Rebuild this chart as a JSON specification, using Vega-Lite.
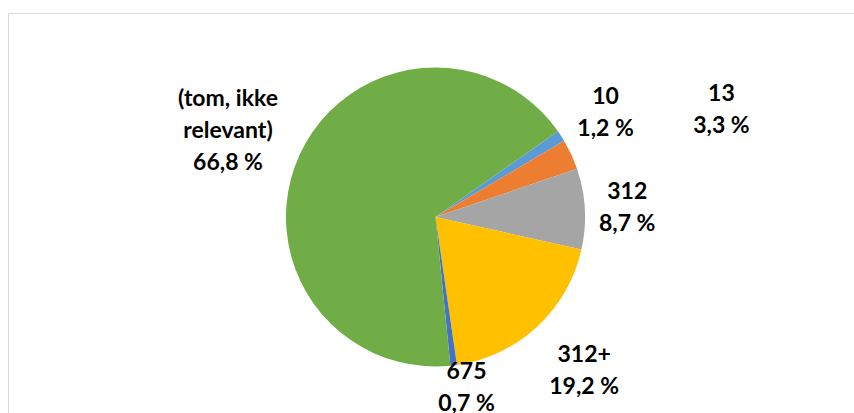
{
  "$schema": "https://vega.github.io/schema/vega-lite/v6.json",
  "width": 855,
  "height": 408,
  "autosize": {"type": "none"},
  "padding": {"left": 8, "top": 13, "right": 0, "bottom": 0},
  "background": "white",
  "view": {"stroke": "#D9D9D9", "strokeWidth": 1, "fill": "white"},
  "data": {
    "values": [
      {"i": 1, "cat": "10", "pct": 1.2, "label": "10\n1,2 %"},
      {"i": 2, "cat": "13", "pct": 3.3, "label": "13\n3,3 %"},
      {"i": 3, "cat": "312", "pct": 8.7, "label": "312\n8,7 %"},
      {"i": 4, "cat": "312+", "pct": 19.2, "label": "312+\n19,2 %"},
      {"i": 5, "cat": "675", "pct": 0.7, "label": "675\n0,7 %"},
      {"i": 6, "cat": "(tom, ikke relevant)", "pct": 66.8, "label": "(tom, ikke\nrelevant)\n66,8 %"}
    ]
  },
  "encoding": {
    "theta": {"field": "pct", "type": "quantitative", "stack": true, "scale": {"range": [0.96, 7.2432]}},
    "order": {"field": "i", "type": "quantitative"}
  },
  "layer": [
    {
      "mark": {"type": "arc", "radius": 149.5},
      "encoding": {
        "color": {
          "field": "cat", "type": "nominal", "legend": null,
          "scale": {
            "domain": ["10", "13", "312", "312+", "675", "(tom, ikke relevant)"],
            "range": ["#5B9BD5", "#ED7D31", "#A5A5A5", "#FFC000", "#4472C4", "#70AD47"]
          }
        }
      }
    },
    {
      "mark": {"type": "text", "radius": 200, "dx": 2, "dy": -12, "font": "Lato", "fontWeight": "bold", "fontSize": 23, "lineBreak": "\n", "lineHeight": 32, "align": "center", "baseline": "middle", "color": "black"},
      "encoding": {"text": {"condition": {"test": "datum.i === 1", "field": "label"}, "value": ""}}
    },
    {
      "mark": {"type": "text", "radius": 306, "dx": 8, "dy": 4.5, "font": "Lato", "fontWeight": "bold", "fontSize": 23, "lineBreak": "\n", "lineHeight": 32, "align": "center", "baseline": "middle", "color": "black"},
      "encoding": {"text": {"condition": {"test": "datum.i === 2", "field": "label"}, "value": ""}}
    },
    {
      "mark": {"type": "text", "radius": 195, "dx": -3, "dy": -14, "font": "Lato", "fontWeight": "bold", "fontSize": 23, "lineBreak": "\n", "lineHeight": 32, "align": "center", "baseline": "middle", "color": "black"},
      "encoding": {"text": {"condition": {"test": "datum.i === 3", "field": "label"}, "value": ""}}
    },
    {
      "mark": {"type": "text", "radius": 215, "dx": 2.5, "dy": -19.5, "font": "Lato", "fontWeight": "bold", "fontSize": 23, "lineBreak": "\n", "lineHeight": 32, "align": "center", "baseline": "middle", "color": "black"},
      "encoding": {"text": {"condition": {"test": "datum.i === 4", "field": "label"}, "value": ""}}
    },
    {
      "mark": {"type": "text", "radius": 173, "dx": 10, "dy": -16.5, "font": "Lato", "fontWeight": "bold", "fontSize": 23, "lineBreak": "\n", "lineHeight": 32, "align": "center", "baseline": "middle", "color": "black"},
      "encoding": {"text": {"condition": {"test": "datum.i === 5", "field": "label"}, "value": ""}}
    },
    {
      "mark": {"type": "text", "radius": 225, "dx": -3, "dy": -24, "font": "Lato", "fontWeight": "bold", "fontSize": 23, "lineBreak": "\n", "lineHeight": 32, "align": "center", "baseline": "middle", "color": "black"},
      "encoding": {"text": {"condition": {"test": "datum.i === 6", "field": "label"}, "value": ""}}
    }
  ]
}
